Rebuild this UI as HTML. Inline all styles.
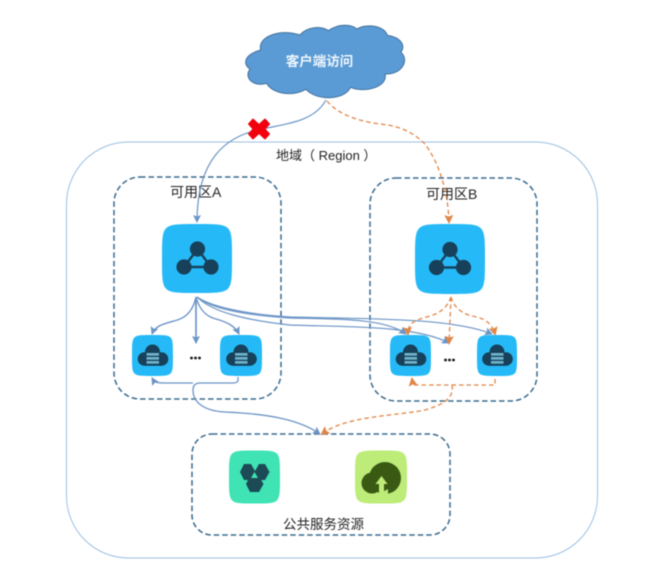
<!DOCTYPE html>
<html><head><meta charset="utf-8">
<style>
html,body{margin:0;padding:0;background:#fff;width:667px;height:563px;overflow:hidden}
svg{display:block;filter:blur(.4px)}
text{font-family:"Liberation Sans","Noto Sans CJK SC",sans-serif}
</style></head><body>
<svg width="667" height="563" viewBox="0 0 667 563" xmlns="http://www.w3.org/2000/svg">
<defs>
<marker id="b" markerWidth="10" markerHeight="10" refX="7" refY="4.5" orient="auto" markerUnits="userSpaceOnUse"><path d="M0 0.5L8 4.500L0 8.500L1.500 4.500Z" fill="#6b94c6"/></marker>
<marker id="o" markerWidth="11" markerHeight="11" refX="7" refY="5" orient="auto" markerUnits="userSpaceOnUse"><path d="M0 0.5L9 5L0 9.500L1.500 5Z" fill="#e08648"/></marker>
<path id="sq" d="M0 -50C26 -50 38 -50 44 -44C50 -38 50 -26 50 0C50 26 50 38 44 44C38 50 26 50 0 50C-26 50 -38 50 -44 44C-50 38 -50 26 -50 0C-50 -26 -50 -38 -44 -44C-38 -50 -26 -50 0 -50Z"/>
<g id="net">
<path d="M0 -9.500L-13.500 8.500H13.500Z" fill="none" stroke="#17405a" stroke-width="2.400"/>
<g fill="#17405a"><circle cx="0" cy="-9.500" r="7.600"/><circle cx="-13.500" cy="8.500" r="7.600"/><circle cx="13.500" cy="8.500" r="7.600"/></g>
</g>
<g id="srv">
<g fill="#17405a"><circle cx="0" cy="-4" r="7.500"/><circle cx="-8" cy="3" r="6.800"/><circle cx="9" cy="3" r="6.800"/><rect x="-8" y="-2" width="17" height="11.800"/></g>
<g fill="#6fb4cc"><rect x="-6" y="-3" width="12.500" height="2.700"/><rect x="-6" y="1" width="12.500" height="2.700"/><rect x="-6" y="5" width="12.500" height="2.700"/></g>
</g>
</defs>

<rect x="66.500" y="142" width="531" height="416" rx="62" fill="none" stroke="#9cc0e2" stroke-width="1"/>
<g fill="none" stroke="#3a6a8e" stroke-width="1.500" stroke-dasharray="5.500 3">
<rect x="114" y="177" width="167" height="222" rx="26"/>
<rect x="370" y="178" width="167" height="223" rx="26"/>
<rect x="192" y="434" width="258" height="101" rx="20"/>
</g>

<g transform="translate(220,0) scale(.33333)">
<path d="M90 207C70 195 68 165 122 150C112 110 180 85 240 105C262 78 305 78 325 92C355 70 395 72 410 87C445 68 495 80 502 106C545 112 558 140 542 156C570 180 545 225 495 222C505 262 430 280 392 262C370 305 285 300 258 268C215 292 155 280 140 250C95 262 72 230 90 207Z" fill="#5b9bd5" stroke="#41719c" stroke-width="3"/>
</g>
<text x="319.500" y="66" font-size="13.500" font-weight="bold" fill="#eef6fc" text-anchor="middle">客户端访问</text>

<text x="276" y="160" font-size="13" fill="#222">地域（ Region ）</text>
<text x="170" y="197" font-size="14" fill="#222">可用区A</text>
<text x="426" y="199" font-size="14" fill="#222">可用区B</text>
<text x="283" y="529" font-size="13.500" fill="#222">公共服务资源</text>

<!-- blue connectors -->
<g fill="none" stroke="#6b94c6" stroke-width="1.200">
<path d="M326 100C314 122 285 124 262 129C225 136 197 160 197 222" marker-end="url(#b)"/>
<path d="M196 297C192 315 182 319 174 321C163 324 155 326 152 334" marker-end="url(#b)" stroke-width="1.400"/>
<path d="M196 297V343" marker-end="url(#b)" stroke-width="1.700"/>
<path d="M196 297C200 312 208 317 216 319C227 322 235 326 239 334" marker-end="url(#b)" stroke-width="1.400"/>
<path d="M197 297C212 307 245 314 290 317C360 319 450 317 492 334" marker-end="url(#b)"/>
<path d="M197 297C212 309 245 315 290 318C335 319 385 318 406 334" marker-end="url(#b)"/>
<path d="M197 297C212 312 245 320 290 325C345 327 415 325 449 343" marker-end="url(#b)"/>
<path d="M238 377V380Q238 383 233 383H200Q193 383 193 390C193 403 205 411 225 412C270 414 300 420 320 434" marker-end="url(#b)" stroke-width="1.300"/>
<path d="M193 383H165C158 383 155 383 152 378" marker-end="url(#b)" stroke-width="1.300"/>
</g>

<!-- orange connectors -->
<g fill="none" stroke="#e08648" stroke-width="1.300" stroke-dasharray="4.500 3">
<path d="M327 101C340 117 365 122 380 124C398 126 410 130 424 143C438 160 448 190 449 222" marker-end="url(#o)"/>
<path d="M451 297C447 308 440 313 430 316C420 319 407 321 408 334" marker-end="url(#o)"/>
<path d="M451 297L449 343" marker-end="url(#o)"/>
<path d="M451 297C454 308 463 314 472 316C484 318 492 323 495 334" marker-end="url(#o)"/>
<path d="M495 379V385H413L412 379" marker-end="url(#o)"/>
<path d="M452 385C454 398 445 404 425 410C395 416 345 416 322 434" marker-end="url(#o)"/>
</g>

<!-- red X -->
<path d="M253 119L259 124.500L265 119L269.500 124L265 129L269.500 134L265 139L259 133.500L253 139L248.500 134L253 129L248.500 124Z" fill="#f2000d" stroke="#f2000d" stroke-width="1" stroke-linejoin="round"/>

<!-- big icons -->
<use href="#sq" transform="translate(197,258.500) scale(.7,.69)" fill="#25baf7"/>
<use href="#net" transform="translate(197.500,258.500)"/>
<use href="#sq" transform="translate(450,259) scale(.7,.7)" fill="#25baf7"/>
<use href="#net" transform="translate(450,259)"/>

<!-- small icons -->
<use href="#sq" transform="translate(152.500,355.500) scale(.41)" fill="#25baf7"/>
<use href="#sq" transform="translate(241,355.500) scale(.42,.41)" fill="#25baf7"/>
<use href="#sq" transform="translate(410.500,355.500) scale(.41)" fill="#25baf7"/>
<use href="#sq" transform="translate(497,355.500) scale(.4,.41)" fill="#25baf7"/>
<use href="#srv" transform="translate(152.500,356)"/>
<use href="#srv" transform="translate(241,356)"/>
<use href="#srv" transform="translate(410.500,356)"/>
<use href="#srv" transform="translate(497,356)"/>

<!-- dots -->
<g fill="#111">
<circle cx="191.500" cy="358" r="1.400"/><circle cx="195.500" cy="358" r="1.400"/><circle cx="199.500" cy="358" r="1.400"/>
<circle cx="445.500" cy="360" r="1.400"/><circle cx="449.500" cy="360" r="1.400"/><circle cx="453.500" cy="360" r="1.400"/>
</g>

<!-- public service icons -->
<use href="#sq" transform="translate(254.500,477) scale(.51,.53)" fill="#3fe3b4"/>
<g fill="#1c4a55">
<path d="M244 464H251L255.500 472L251 480H244L240 472Z"/>
<path d="M259 464H265L269.500 472L265 480H259L254.500 472Z"/>
<path d="M250 476H259L263.500 484L259 492H250L246 484Z"/>
</g>
<path d="M254.500 472L258 478H251Z" fill="#3fe3b4"/>
<use href="#sq" transform="translate(381,477) scale(.52,.53)" fill="#bdec78"/>
<g fill="#3a5a14">
<circle cx="385" cy="478" r="16"/><circle cx="372" cy="483" r="10.500"/>
</g>
<path d="M375 494H388V489L379 494Z" fill="#bdec78"/>
<path d="M381.500 476L387.500 484H384V495H379V484H375.500Z" fill="#bdec78"/>
</svg>
</body></html>
